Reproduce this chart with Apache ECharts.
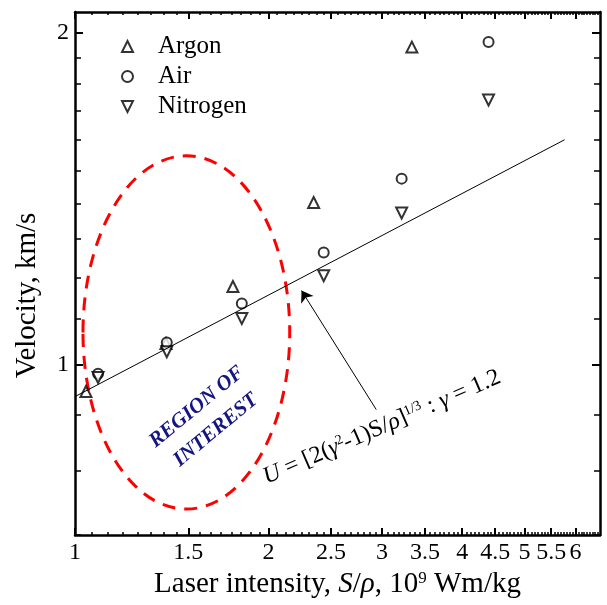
<!DOCTYPE html>
<html lang="en">
<head>
<meta charset="UTF-8" />
<script src="https://cdn.jsdelivr.net/npm/echarts@6/dist/echarts.min.js"></script>
<title>Velocity vs laser intensity</title>
<style>
  html, body { margin: 0; padding: 0; background: #fff; }
  #main { width: 607px; height: 605px; }
</style>
</head>
<body>
<div id="main"></div>
<script type="text/javascript">
// measured points [S/rho (1e9 Wm/kg), velocity (km/s)]
const argon = [[1.04, 0.945], [1.385, 1.045], [1.76, 1.177], [2.35, 1.403], [3.34, 1.942]];
const air = [[1.086, 0.981], [1.389, 1.047], [1.817, 1.136], [2.436, 1.264], [3.22, 1.475], [4.395, 1.963]];
const nitrogen = [[1.086, 0.973], [1.389, 1.027], [1.817, 1.101], [2.436, 1.204], [3.22, 1.373], [4.395, 1.739]];
// theory line end points
const theory = [[1, 0.935], [5.77, 1.6]];
// arrow from formula to the line
const arrow = [[2.94, 0.91], [2.25, 1.167]];

const xLabels = [1, 1.5, 2, 2.5, 3, 3.5, 4, 4.5, 5, 5.5, 6];
const xMinor = [];
for (let v = 1; v < 6.55; v += 0.0625) xMinor.push(+v.toFixed(4));
const yLabels = [1, 2];
const yMinor = [0.7, 0.8, 0.9, 1.1, 1.2, 1.3, 1.4, 1.5, 1.6, 1.7, 1.8, 1.9, 2];
const xRange = [1, 6.55];
const yRange = [0.7, 2.09];

// region of interest ellipse (data units)
const roi = { left: 1.029, right: 2.157, top: 1.547, bottom: 0.739 };
const roiTextAt = [1.6, 0.893];
const formulaAt = [3.0, 0.877];

const lg = v => Math.log10(v);
const toLog = arr => arr.map(p => [lg(p[0]), lg(p[1])]);
const fmt = v => String(Math.round(Math.pow(10, v) * 10) / 10);
const serif = 'Liberation Serif';
const downTriangle = 'path://M0,0L10,0L5,10Z';

const chart = echarts.init(document.getElementById('main'));

const baseAxis = (range, position) => ({
  type: 'value',
  min: lg(range[0]),
  max: lg(range[1]),
  position: position,
  splitLine: { show: false },
  axisLine: { show: true, onZero: false, lineStyle: { color: '#000', width: 2.5 } },
  axisLabel: { show: false },
});
const majorAxis = (range, pos, ticks, len, labels) => {
  const a = baseAxis(range, pos);
  a.axisTick = { show: true, inside: true, length: len, customValues: ticks.map(lg), lineStyle: { color: '#000', width: 2 } };
  if (labels) {
    a.axisLabel = {
      show: true, customValues: ticks.map(lg), formatter: fmt,
      fontSize: 24, fontFamily: serif, color: '#000', margin: 6,
    };
  }
  return a;
};
const minorAxis = (range, pos, ticks, len) => {
  const a = baseAxis(range, pos);
  a.axisLine = { show: false, onZero: false };
  a.axisTick = { show: true, inside: true, length: len, customValues: ticks.map(lg), lineStyle: { color: '#000', width: 1.5 } };
  return a;
};

const xMain = majorAxis(xRange, 'bottom', xLabels, 7, true);
xMain.name = 'Laser intensity, {i|S}/{i|ρ}, 10{sup|9} Wm/kg';
xMain.nameLocation = 'middle';
xMain.nameGap = 32;
xMain.nameTextStyle = {
  fontSize: 29, fontFamily: serif, color: '#000',
  rich: {
    i: { fontSize: 29, fontFamily: serif, fontStyle: 'italic', color: '#000' },
    sup: { fontSize: 17, fontFamily: serif, color: '#000', verticalAlign: 'top' },
  },
};
const yMain = majorAxis(yRange, 'left', yLabels, 8, true);
yMain.name = 'Velocity, km/s';
yMain.nameLocation = 'middle';
yMain.nameGap = 33;
yMain.nameTextStyle = { fontSize: 29, fontFamily: serif, color: '#000', padding: [0, 44, 0, 0] };

const symbolStyle = { color: '#fff', borderColor: '#000', borderWidth: 2 };

const option = {
  animation: false,
  backgroundColor: '#fff',
  grid: { left: 75, right: 7, top: 12, bottom: 70 },
  legend: {
    data: ['Argon', 'Air', 'Nitrogen'],
    orient: 'vertical',
    left: 116,
    top: 29,
    itemWidth: 11,
    itemHeight: 11,
    itemGap: 5,
    textStyle: { fontSize: 25, fontFamily: serif, color: '#000', padding: [0, 0, 0, 20] },
  },
  xAxis: [
    xMain,
    minorAxis(xRange, 'bottom', xMinor, 3),
    majorAxis(xRange, 'top', xLabels, 7, false),
    minorAxis(xRange, 'top', xMinor, 3),
  ],
  yAxis: [
    yMain,
    minorAxis(yRange, 'left', yMinor, 6),
    majorAxis(yRange, 'right', yLabels, 8, false),
    minorAxis(yRange, 'right', yMinor, 6),
  ],
  series: [
    {
      name: 'theory', type: 'line', data: toLog(theory), showSymbol: false, symbol: 'none',
      lineStyle: { color: '#000', width: 1 }, silent: true,
    },
    {
      name: 'Argon', type: 'scatter', data: toLog(argon), symbol: 'triangle', symbolSize: 11,
      itemStyle: symbolStyle,
    },
    {
      name: 'Air', type: 'scatter', data: toLog(air), symbol: 'circle', symbolSize: 10,
      itemStyle: symbolStyle,
    },
    {
      name: 'Nitrogen', type: 'scatter', data: toLog(nitrogen), symbol: downTriangle, symbolSize: 11,
      itemStyle: symbolStyle,
    },
    {
      name: 'arrow', type: 'lines', coordinateSystem: 'cartesian2d',
      data: [{ coords: toLog(arrow) }],
      symbol: ['none', 'arrow'], symbolSize: 11,
      lineStyle: { color: '#000', width: 1, opacity: 1 }, silent: true,
    },
  ],
};
chart.setOption(option);

// annotations placed through the axes
const px = p => chart.convertToPixel({ xAxisIndex: 0, yAxisIndex: 0 }, [lg(p[0]), lg(p[1])]);
const tl = px([roi.left, roi.top]);
const br = px([roi.right, roi.bottom]);
const rAt = px(roiTextAt);
const fAt = px(formulaAt);

chart.setOption({
  graphic: [
    {
      type: 'ellipse', silent: true,
      shape: { cx: (tl[0] + br[0]) / 2, cy: (tl[1] + br[1]) / 2, rx: (br[0] - tl[0]) / 2, ry: (br[1] - tl[1]) / 2 },
      style: { fill: 'none', stroke: '#ff0000', lineWidth: 3, lineDash: [13, 9] },
    },
    {
      type: 'text', x: rAt[0], y: rAt[1], rotation: 39.5 * Math.PI / 180, silent: true,
      style: {
        text: 'REGION OF\nINTEREST', fontSize: 21, fontFamily: serif, fontWeight: 'bold', fontStyle: 'italic',
        fill: '#141482', align: 'center', verticalAlign: 'middle', lineHeight: 30,
      },
    },
    {
      type: 'text', x: fAt[0], y: fAt[1], rotation: 23.4 * Math.PI / 180, silent: true,
      style: {
        text: '{i|U} = [2({i|γ}{sup|2}-1)S/{i|ρ}]{sup|1/3} : {i|γ} = 1.2',
        fontSize: 24, fontFamily: serif, fill: '#000', align: 'center', verticalAlign: 'middle',
        rich: {
          i: { fontSize: 24, fontFamily: serif, fontStyle: 'italic', fill: '#000' },
          sup: { fontSize: 14, fontFamily: serif, fill: '#000', verticalAlign: 'top' },
        },
      },
    },
  ],
});
</script>
</body>
</html>
